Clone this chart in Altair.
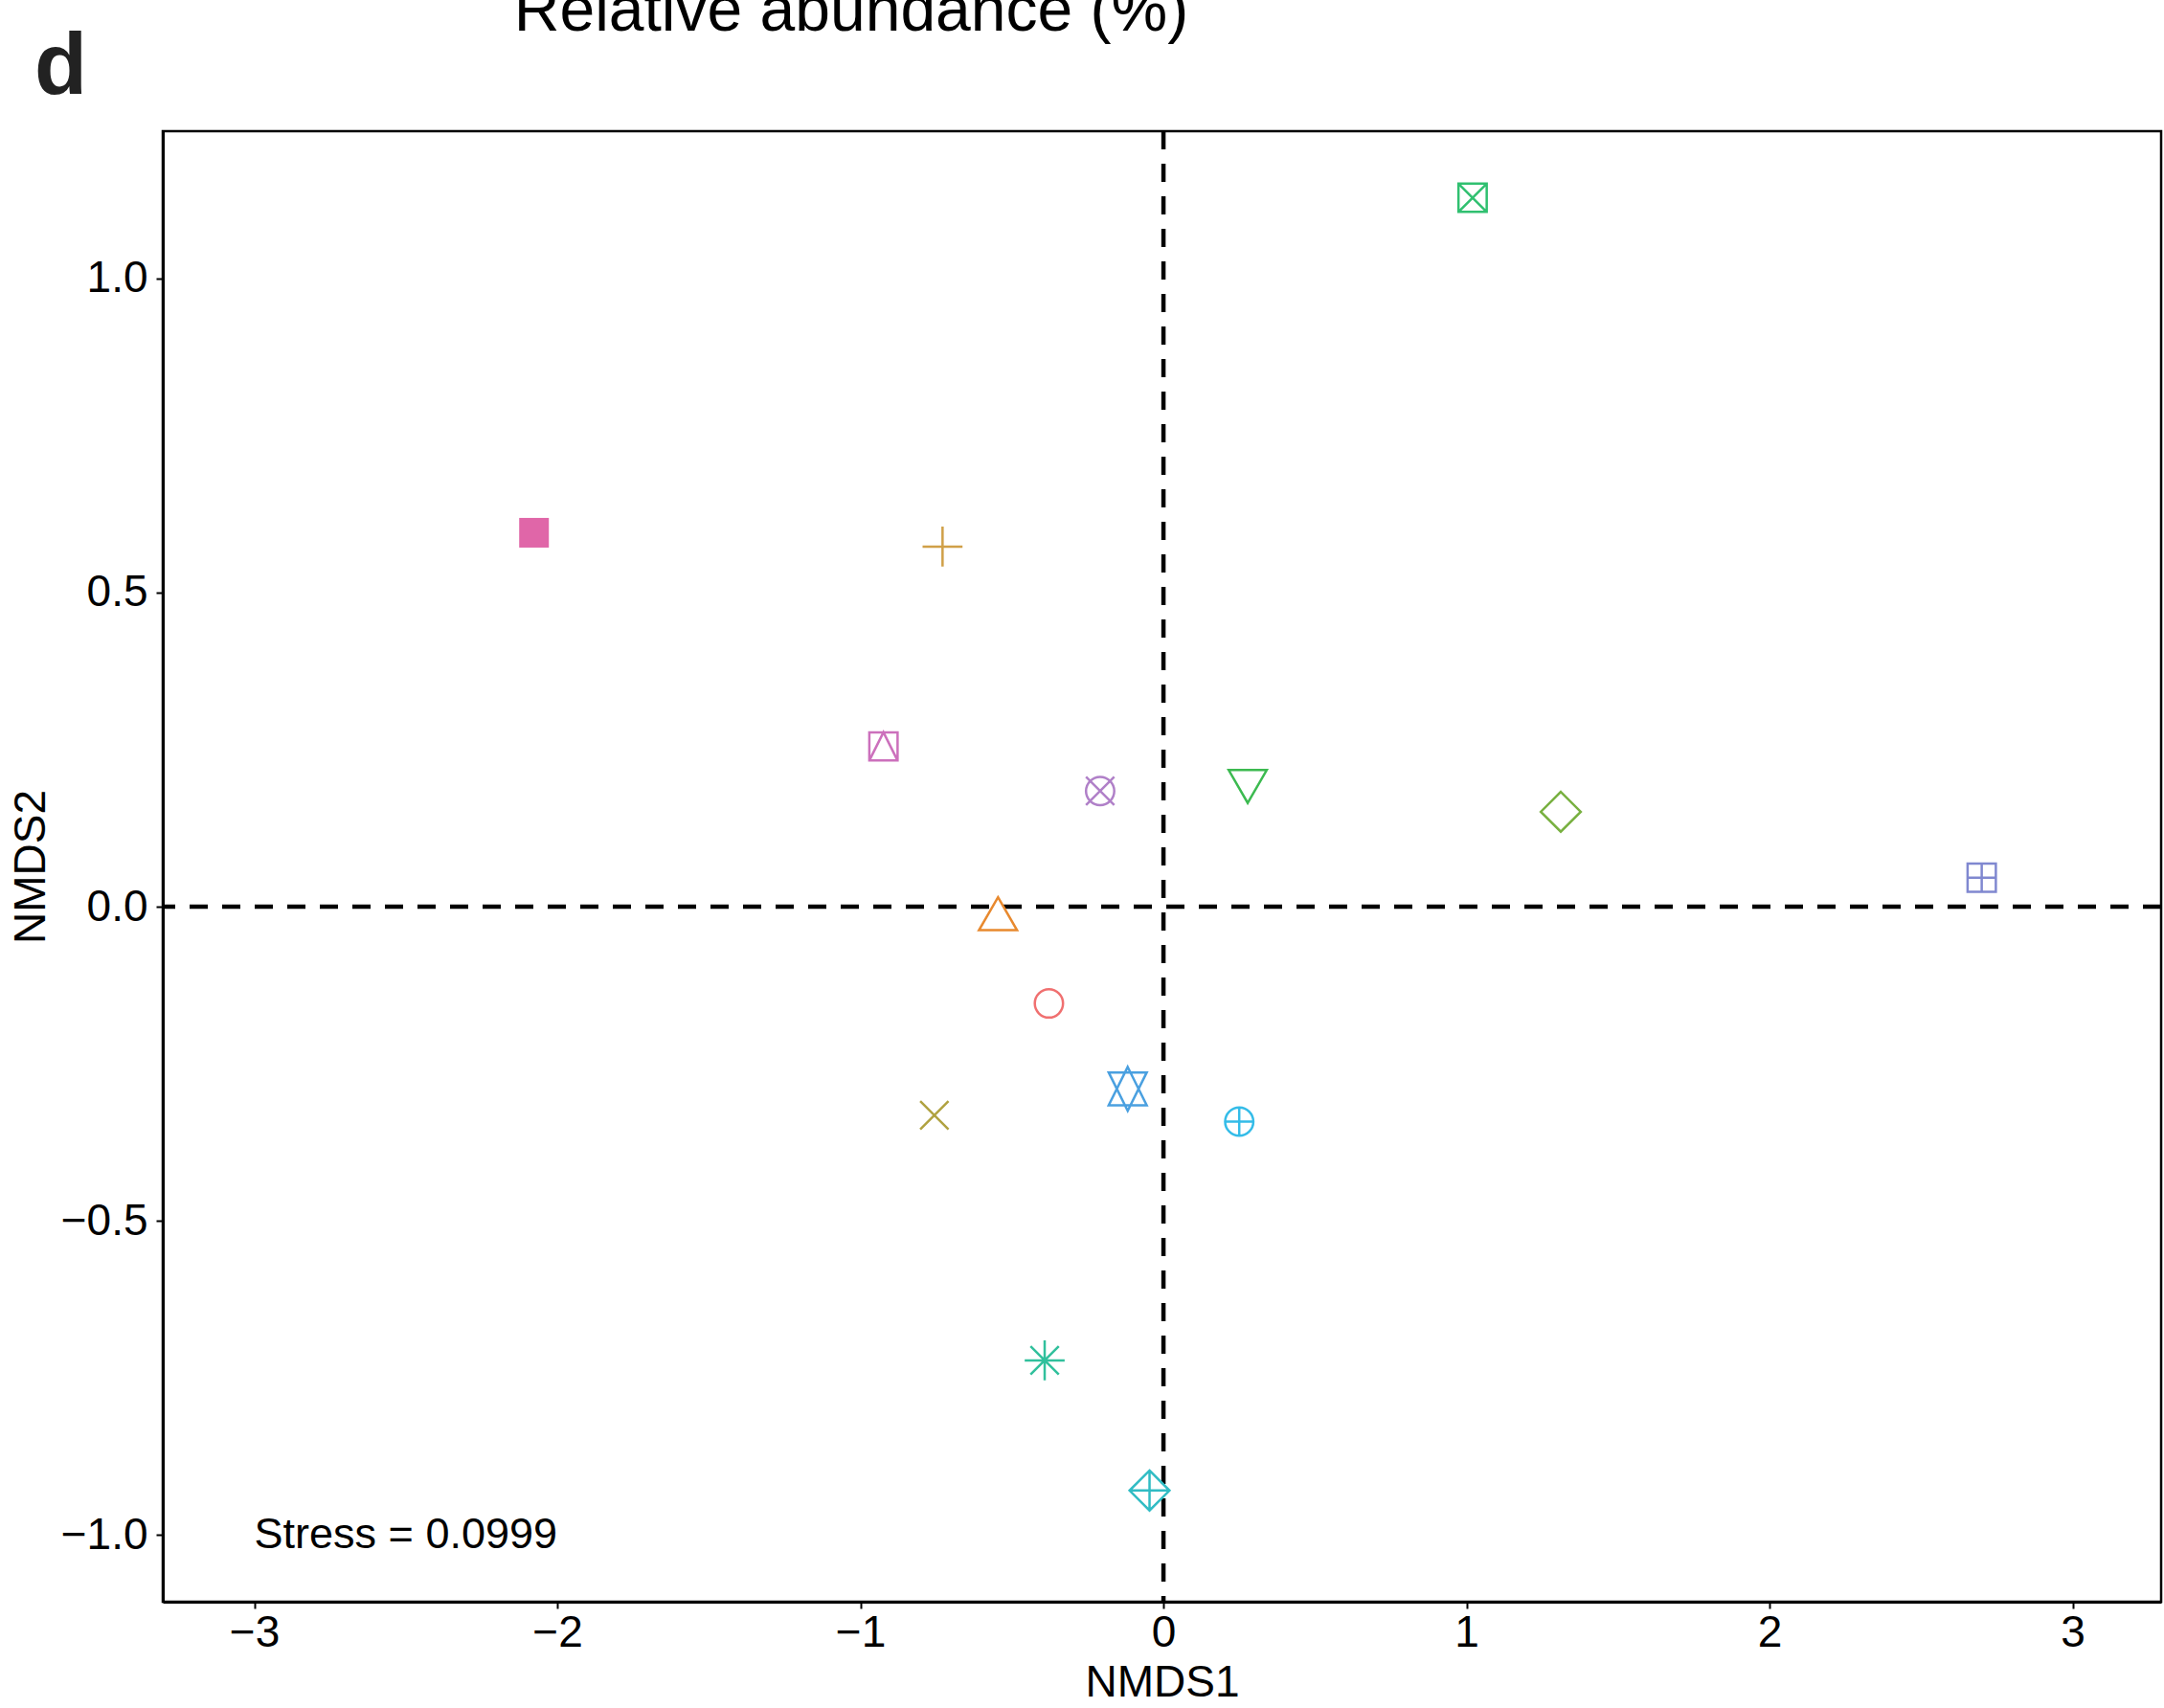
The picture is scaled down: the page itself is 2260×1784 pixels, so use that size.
import altair as alt
import pandas as pd

# ---- data ----
names = ["circle", "triangle_up", "plus", "cross", "diamond", "triangle_down",
         "square_cross", "asterisk", "diamond_plus", "circle_plus", "star_david",
         "square_plus", "circle_cross", "square_triangle", "square_filled"]
nmds1 = [-0.378, -0.546, -0.729, -0.756, 1.311, 0.278, 1.020, -0.392, -0.046,
         0.250, -0.118, 2.700, -0.209, -0.924, -2.077]
nmds2 = [-0.154, -0.020, 0.573, -0.332, 0.151, 0.200, 1.128, -0.722, -0.929,
         -0.342, -0.290, 0.046, 0.184, 0.255, 0.595]
colors = ["#F07070", "#E8892E", "#D0A048", "#B0A240", "#78B040", "#3CBA50",
          "#30C070", "#30C09C", "#30BCC4", "#34BCE8", "#4AA0E0", "#8088D0",
          "#B080C8", "#CC70BC", "#E066A8"]

x_ticks = [-3, -2, -1, 0, 1, 2, 3]
y_ticks = [-1.0, -0.5, 0.0, 0.5, 1.0]
x_domain = [-3.302, 3.292]
y_domain = [-1.106, 1.234]
stress_label = "Stress = 0.0999"
panel_letter = "d"
top_text = "Relative abundance (%)"

# ---- symbol outlines (unit = marker radius) ----
CIRC = "M-1,0A1,1,0,1,0,1,0A1,1,0,1,0,-1,0Z"
SQ = "M-1,-1L1,-1L1,1L-1,1Z"
PLUS1 = "M-1,0L1,0M0,-1L0,1"
PLUS2 = "M-1.414,0L1.414,0M0,-1.414L0,1.414"
XX = "M-1,-1L1,1M-1,1L1,-1"
DIA = "M0,-1.414L1.414,0L0,1.414L-1.414,0Z"
TUP = "M0,-1.555L1.347,0.778L-1.347,0.778Z"
TDN = "M0,1.555L1.347,-0.778L-1.347,-0.778Z"
STAR = "M0,-1.555L1.347,1.166L-1.347,1.166ZM0,1.555L1.347,-1.166L-1.347,-1.166Z"
paths = [CIRC, TUP, PLUS2, XX, DIA, TDN, SQ + XX, PLUS2 + XX, DIA + PLUS2,
         CIRC + PLUS1, STAR, SQ + PLUS1, CIRC + XX, SQ + "M-1,1L0,-1L1,1", SQ]

df = pd.DataFrame({"name": names, "NMDS1": nmds1, "NMDS2": nmds2})

FONT = "Liberation Sans"
FS = 46

xscale = alt.Scale(domain=x_domain, nice=False, zero=False)
yscale = alt.Scale(domain=y_domain, nice=False, zero=False)
xaxis = alt.Axis(values=x_ticks, format="d", grid=False, labelFlush=False,
                 domain=True, domainColor="black", domainWidth=3,
                 tickColor="black", tickWidth=2, tickSize=7,
                 labelFont=FONT, labelFontSize=FS, labelColor="black", labelPadding=3,
                 title="NMDS1", titleFont=FONT, titleFontSize=FS, titleFontWeight="normal",
                 titleColor="black", titleY=98, titleBaseline="alphabetic")
yaxis = alt.Axis(values=y_ticks, format=".1f", grid=False, labelFlush=False,
                 domain=True, domainColor="black", domainWidth=3,
                 tickColor="black", tickWidth=2, tickSize=7,
                 labelFont=FONT, labelFontSize=FS, labelColor="black", labelPadding=9,
                 title="NMDS2", titleFont=FONT, titleFontSize=FS, titleFontWeight="normal",
                 titleColor="black", titleX=-124, titleBaseline="alphabetic")

X = alt.X("NMDS1:Q", scale=xscale, axis=xaxis)
Y = alt.Y("NMDS2:Q", scale=yscale, axis=yaxis)
shape_enc = alt.Shape("name:N", scale=alt.Scale(domain=names, range=paths), legend=None)
color_enc = alt.Color("name:N", scale=alt.Scale(domain=names, range=colors), legend=None)

zero_df = pd.DataFrame({"NMDS1": [0.0], "NMDS2": [0.0]})
vline = alt.Chart(zero_df).mark_rule(color="black", strokeWidth=4.5, strokeDash=[19, 15]).encode(x=X)
hline = alt.Chart(zero_df).mark_rule(color="black", strokeWidth=4.5, strokeDash=[19, 15]).encode(y=Y)

open_pts = alt.Chart(df).transform_filter(alt.datum.name != "square_filled").mark_point(
    filled=False, size=870, strokeWidth=2.5, opacity=1
).encode(x=X, y=Y, shape=shape_enc, color=color_enc)

filled_pts = alt.Chart(df).transform_filter(alt.datum.name == "square_filled").mark_point(
    filled=True, size=961, opacity=1
).encode(x=X, y=Y, shape=shape_enc, color=color_enc)

stress = alt.Chart(pd.DataFrame({"t": [stress_label]})).mark_text(
    align="left", baseline="middle", font=FONT, fontSize=45, color="black"
).encode(x=alt.datum(-3), y=alt.datum(-1.0), text="t:N")

letter = alt.Chart(pd.DataFrame({"t": [panel_letter]})).mark_text(
    align="left", baseline="alphabetic", font=FONT, fontSize=90, fontWeight="bold", color="#222222"
).encode(x=alt.value(-134), y=alt.value(-39), text="t:N")

toptitle = alt.Chart(pd.DataFrame({"t": [top_text]})).mark_text(
    align="center", baseline="alphabetic", font=FONT, fontSize=66, color="black"
).encode(x=alt.value(719), y=alt.value(-105), text="t:N")

chart = alt.layer(vline, hline, open_pts, filled_pts, stress, letter, toptitle).properties(
    width=2087, height=1536,
    autosize=alt.AutoSizeParams(type="none"),
    padding={"left": 170, "top": 137, "right": 3, "bottom": 111},
    background="white",
).configure_view(stroke="black", strokeWidth=2.5)

chart.save("out.html", embed_options={"renderer": "svg", "actions": False})
